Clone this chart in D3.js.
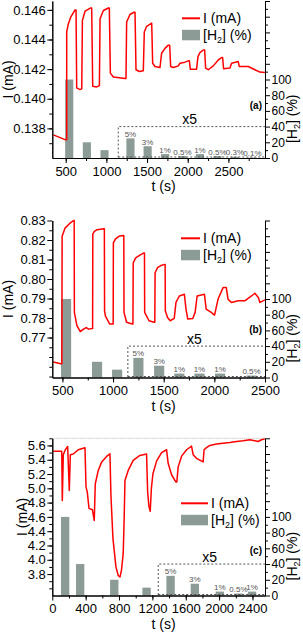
<!DOCTYPE html>
<html>
<head>
<meta charset="utf-8">
<script src="https://cdn.jsdelivr.net/npm/d3@7"></script>
<style>
  body { margin: 0; background: #fff; }
  svg { display: block; font-family: Arial, "Liberation Sans", sans-serif; }
</style>
</head>
<body>
<script>
// ---- panel (a): current trace [t (s), I (mA)]
var curveA = [[348,0.13756],[492,0.13724],[512,0.13724],[512,0.14451],[533,0.14507],[561,0.14551],[615,0.1460],[627,0.1460],
  [635,0.14073],[676,0.14062],[697,0.14067],[705,0.14529],[738,0.14591],[807,0.14613],[819,0.14613],[832,0.14084],[881,0.1408],
  [914,0.14089],[922,0.1454],[963,0.14596],[1024,0.14613],[1036,0.14613],[1049,0.14173],[1086,0.14147],[1229,0.14136],[1241,0.14136],
  [1249,0.14518],[1290,0.14569],[1339,0.14584],[1352,0.14584],[1364,0.14196],[1405,0.14184],[1454,0.14189],[1466,0.14451],
  [1495,0.14489],[1557,0.14511],[1569,0.1424],[1597,0.14218],[1659,0.14211],[1679,0.14307],[1720,0.1434],[1761,0.14362],
  [1778,0.14362],[1790,0.14218],[1823,0.14211],[1884,0.14222],[1905,0.1424],[1966,0.14247],[2007,0.14256],[2020,0.14256],
  [2032,0.142],[2109,0.142],[2126,0.14284],[2150,0.14311],[2191,0.14329],[2208,0.14329],[2220,0.14207],[2253,0.14196],
  [2314,0.14222],[2376,0.14262],[2416,0.14278],[2429,0.14278],[2441,0.14202],[2519,0.14207],[2539,0.1424],[2621,0.14251],
  [2633,0.14218],[2744,0.14218],[2826,0.14196],[2887,0.1418],[2949,0.14178]];
var barTA = [543,760,977,1296,1507,1722,1935,2150,2365,2580,2795];
var barCA = [100,20,10,5,3,1,0.5,1,0.5,0.3,0.1];

// ---- panel (b)
var curveB = [[410,0.7574],[484,0.7566],[494,0.7566],[497,0.8219],[526,0.8261],[576,0.8287],[609,0.8300],[616,0.8300],
  [618,0.7829],[643,0.7761],[676,0.7730],[708,0.7743],[735,0.7751],[758,0.7743],[792,0.7746],[798,0.7746],[800,0.8230],
  [815,0.8244],[842,0.8253],[907,0.8258],[914,0.8258],[916,0.7837],[924,0.7811],[967,0.7769],[991,0.7769],[1001,0.7769],
  [1003,0.8185],[1024,0.8206],[1057,0.8219],[1100,0.8223],[1106,0.8223],[1108,0.7829],[1133,0.7778],[1190,0.7769],[1196,0.7769],
  [1199,0.8083],[1223,0.8108],[1273,0.8125],[1306,0.8134],[1310,0.8134],[1312,0.7829],[1355,0.7786],[1405,0.7778],[1412,0.7778],
  [1415,0.8032],[1439,0.8058],[1472,0.8069],[1511,0.8075],[1514,0.8075],[1516,0.7837],[1538,0.7803],[1564,0.7786],[1604,0.7798],
  [1621,0.7880],[1654,0.7913],[1704,0.7922],[1720,0.7846],[1737,0.7795],[1787,0.7798],[1810,0.7829],[1830,0.7913],[1902,0.7922],
  [1919,0.7846],[1969,0.7829],[2002,0.7815],[2036,0.7896],[2086,0.7956],[2118,0.7956],[2135,0.7896],[2168,0.7880],[2235,0.7888],
  [2300,0.7888],[2367,0.7913],[2400,0.7927],[2434,0.7905],[2450,0.7880],[2500,0.7893]];
var barTB = [536,842,1040,1250,1455,1654,1853,2056,2367];
var barCB = [100,20,10,5,3,1,1,1,0.5];

// ---- panel (c)
var curveC = [[12,5.52],[113,5.52],[120,4.83],[132,5.47],[152,5.53],[184,5.586],[204,4.97],[216,5.47],[251,5.48],[311,5.54],
  [392,5.567],[404,5.02],[419,4.95],[440,4.72],[481,4.70],[503,4.55],[515,5.06],[551,5.25],[592,5.37],[651,5.446],
  [691,5.484],[703,4.9],[727,4.3],[763,3.9],[790,3.78],[811,3.758],[829,3.85],[850,4.085],[862,4.6],[871,5.11],
  [910,5.25],[970,5.39],[1050,5.46],[1130,5.48],[1143,4.95],[1158,4.75],[1174,4.68],[1188,5.0],[1206,5.2],[1250,5.38],
  [1310,5.5],[1370,5.54],[1389,5.35],[1430,5.19],[1481,5.09],[1493,5.09],[1509,5.3],[1550,5.45],[1610,5.54],[1669,5.59],
  [1689,5.47],[1729,5.42],[1808,5.37],[1820,5.54],[1849,5.57],[1889,5.6],[1969,5.62],[2048,5.63],[2128,5.64],[2208,5.656],
  [2287,5.665],[2368,5.68],[2428,5.665],[2467,5.655],[2508,5.68],[2547,5.69]];
var barTC = [154,334,743,1130,1418,1709,2008,2232,2395];
var barCC = [100,40,20,10,5,3,1,0.5,1];

var W = 303, H = 632;
var L = 52.3, R = 265;
var red = "#ff0000", barColor = "#8c9b96";

var svg = d3.select("body").append("svg").attr("width", W).attr("height", H);

function drawPanel(p) {
  var g = svg.append("g");
  var x = d3.scaleLinear().domain(p.xDomain).range([L, R]);
  var y = d3.scaleLinear().domain(p.yDomain).range([p.bottom, p.top]);
  var y2 = d3.scaleLinear().domain([0, 200]).range([p.bottom, p.top]);

  if (p.topLine) {
    g.append("line").attr("x1", L).attr("x2", R).attr("y1", p.top).attr("y2", p.top)
      .attr("stroke", "#bbb").attr("stroke-width", 1).attr("stroke-dasharray", "1,1");
  }

  // bars, the ones after boxFrom are magnified x5
  var bars = p.barT.map(function (t, i) {
    return { t: t, c: p.barC[i], v: p.barC[i] * (i >= p.boxFrom ? 5 : 1), small: i >= p.boxFrom };
  });
  g.selectAll(".bar").data(bars).enter().append("rect")
    .attr("class", "bar")
    .attr("x", function (d) { return x(d.t - 50); })
    .attr("width", function (d) { return x(d.t + 50) - x(d.t - 50); })
    .attr("y", function (d) { return y2(d.v); })
    .attr("height", function (d) { return y2(0) - y2(d.v); })
    .attr("fill", barColor);

  g.selectAll(".pct").data(bars.filter(function (d) { return d.small; })).enter().append("text")
    .attr("x", function (d) { return x(d.t); })
    .attr("y", function (d) { return y2(d.v) - 1.5; })
    .attr("text-anchor", "middle")
    .attr("font-size", 8)
    .attr("fill", "#555")
    .text(function (d) { return d.c + "%"; });

  // x5 dashed box
  g.append("path")
    .attr("d", "M" + x(p.boxT) + "," + (y2(0) - 0.5) + "V" + y2(40) + "H" + R)
    .attr("fill", "none").attr("stroke", "#555").attr("stroke-width", 1)
    .attr("stroke-dasharray", "2,2");
  g.append("path")
    .attr("d", "M" + x(p.boxT) + "," + (y2(0) - 1) + "H" + R)
    .attr("fill", "none").attr("stroke", "#555").attr("stroke-width", 1)
    .attr("stroke-dasharray", "2,2");
  g.append("text")
    .attr("x", (x(p.boxT) + R) / 2 - 2).attr("y", y2(40) - 2.5)
    .attr("text-anchor", "middle").attr("font-size", 14)
    .text("x5");

  // current
  var line = d3.line().x(function (d) { return x(d[0]); }).y(function (d) { return y(d[1]); });
  g.append("path").datum(p.curve)
    .attr("d", line)
    .attr("fill", "none").attr("stroke", red).attr("stroke-width", 1.5)
    .attr("stroke-linejoin", "round");

  // axes
  var xMinor = d3.range(p.xDomain[0] - p.xDomain[0] % p.xMinorStep + p.xMinorStep, p.xDomain[1], p.xMinorStep);
  var yMinor = [];
  for (var v = p.yTicks[0] - p.yMinorStep * 4; v < p.yDomain[1]; v += p.yMinorStep) {
    if (v > p.yDomain[0]) yMinor.push(v);
  }

  function style(sel, fs) {
    sel.attr("font-size", fs).attr("font-family", null);
    sel.selectAll("path.domain").attr("stroke-width", 1);
    sel.selectAll("text").attr("fill", "#000");
  }

  g.append("g").attr("transform", "translate(0," + p.bottom + ")")
    .call(d3.axisBottom(x).tickValues(xMinor).tickSize(3).tickSizeOuter(0).tickFormat(""))
    .call(style, 13);
  g.append("g").attr("transform", "translate(0," + p.bottom + ")")
    .call(d3.axisBottom(x).tickValues(p.xTicks).tickSize(5).tickSizeOuter(0).tickPadding(3.5).tickFormat(d3.format("d")))
    .call(style, 13);

  g.append("g").attr("transform", "translate(" + L + ",0)")
    .call(d3.axisLeft(y).tickValues(yMinor).tickSize(3).tickSizeOuter(0).tickFormat(""))
    .call(style, 13);
  g.append("g").attr("transform", "translate(" + L + ",0)")
    .call(d3.axisLeft(y).tickValues(p.yTicks).tickSize(5).tickSizeOuter(0).tickPadding(1.5).tickFormat(d3.format(p.yFormat)))
    .call(style, 13);

  g.append("g").attr("transform", "translate(" + R + ",0)")
    .call(d3.axisRight(y2).tickValues(d3.range(10, 200, 20)).tickSize(3).tickSizeOuter(0).tickFormat(""))
    .call(style, 12);
  g.append("g").attr("transform", "translate(" + R + ",0)")
    .call(d3.axisRight(y2).tickValues(d3.range(0, 201, 20)).tickSize(5).tickSizeOuter(0).tickPadding(1.5)
      .tickFormat(function (d) { return d <= 100 ? d : ""; }))
    .call(style, 12);

  // titles
  g.append("text")
    .attr("transform", "translate(" + p.yTitleX + "," + ((p.top + p.bottom) / 2) + ") rotate(-90)")
    .attr("text-anchor", "middle").attr("dy", "0.35em").attr("font-size", 14)
    .text("I (mA)");
  var rt = g.append("text")
    .attr("transform", "translate(292.5," + y2(50) + ") rotate(-90)")
    .attr("text-anchor", "middle").attr("dy", "0.35em").attr("font-size", 14);
  rt.append("tspan").text("[H");
  rt.append("tspan").attr("font-size", 9).attr("dy", 3).text("2");
  rt.append("tspan").attr("dy", -3).text("] (%)");

  g.append("text")
    .attr("x", (L + R) / 2 + 5).attr("y", p.bottom + 33)
    .attr("text-anchor", "middle").attr("font-size", 14)
    .text("t (s)");

  g.append("text")
    .attr("x", 262).attr("y", p.labelY)
    .attr("text-anchor", "end").attr("font-size", 10).attr("font-weight", "bold")
    .text(p.label);

  // legend
  var lg = g.append("g").attr("transform", "translate(" + p.legX + "," + p.legY + ")");
  lg.append("line").attr("x1", 0).attr("x2", p.legW).attr("y1", 0).attr("y2", 0)
    .attr("stroke", red).attr("stroke-width", 2);
  lg.append("text").attr("x", p.legW + 3).attr("y", 0).attr("dy", "0.35em").attr("font-size", 14).text("I (mA)");
  lg.append("rect").attr("x", 0).attr("y", 11.5).attr("width", p.legW).attr("height", 10.5).attr("fill", barColor);
  var lt = lg.append("text").attr("x", p.legW + 3).attr("y", 16.7).attr("dy", "0.35em").attr("font-size", 14);
  lt.append("tspan").text("[H");
  lt.append("tspan").attr("font-size", 9).attr("dy", 3).text("2");
  lt.append("tspan").attr("dy", -3).text("] (%)");
}

drawPanel({
  top: 1, bottom: 158, xDomain: [335, 2950], yDomain: [0.136, 0.1466],
  xTicks: [500, 1000, 1500, 2000, 2500], xMinorStep: 250,
  yTicks: [0.138, 0.140, 0.142, 0.144, 0.146], yMinorStep: 0.001, yFormat: ".3f",
  curve: curveA, barT: barTA, barC: barCA, boxFrom: 3, boxT: 1146,
  yTitleX: 8, label: "(a)", labelY: 108.5, legX: 182, legY: 18.3, legW: 18
});
drawPanel({
  top: 220.5, bottom: 377.5, xDomain: [400, 2500], yDomain: [0.7495, 0.83],
  xTicks: [500, 1000, 1500, 2000, 2500], xMinorStep: 250,
  yTicks: [0.77, 0.78, 0.79, 0.80, 0.81, 0.82, 0.83], yMinorStep: 0.005, yFormat: ".2f",
  curve: curveB, barT: barTB, barC: barCB, boxFrom: 3, boxT: 1146,
  yTitleX: 8, label: "(b)", labelY: 333, legX: 181, legY: 238.3, legW: 19
});
drawPanel({
  top: 438.3, bottom: 595.5, xDomain: [0, 2550], yDomain: [3.5, 5.7],
  xTicks: [0, 400, 800, 1200, 1600, 2000, 2400], xMinorStep: 200,
  yTicks: [3.8, 4.0, 4.2, 4.4, 4.6, 4.8, 5.0, 5.2, 5.4, 5.6], yMinorStep: 0.1, yFormat: ".1f",
  curve: curveC, barT: barTC, barC: barCC, boxFrom: 4, boxT: 1270,
  yTitleX: 22, label: "(c)", labelY: 554, legX: 181, legY: 503.3, legW: 27, topLine: true
});
</script>
</body>
</html>
